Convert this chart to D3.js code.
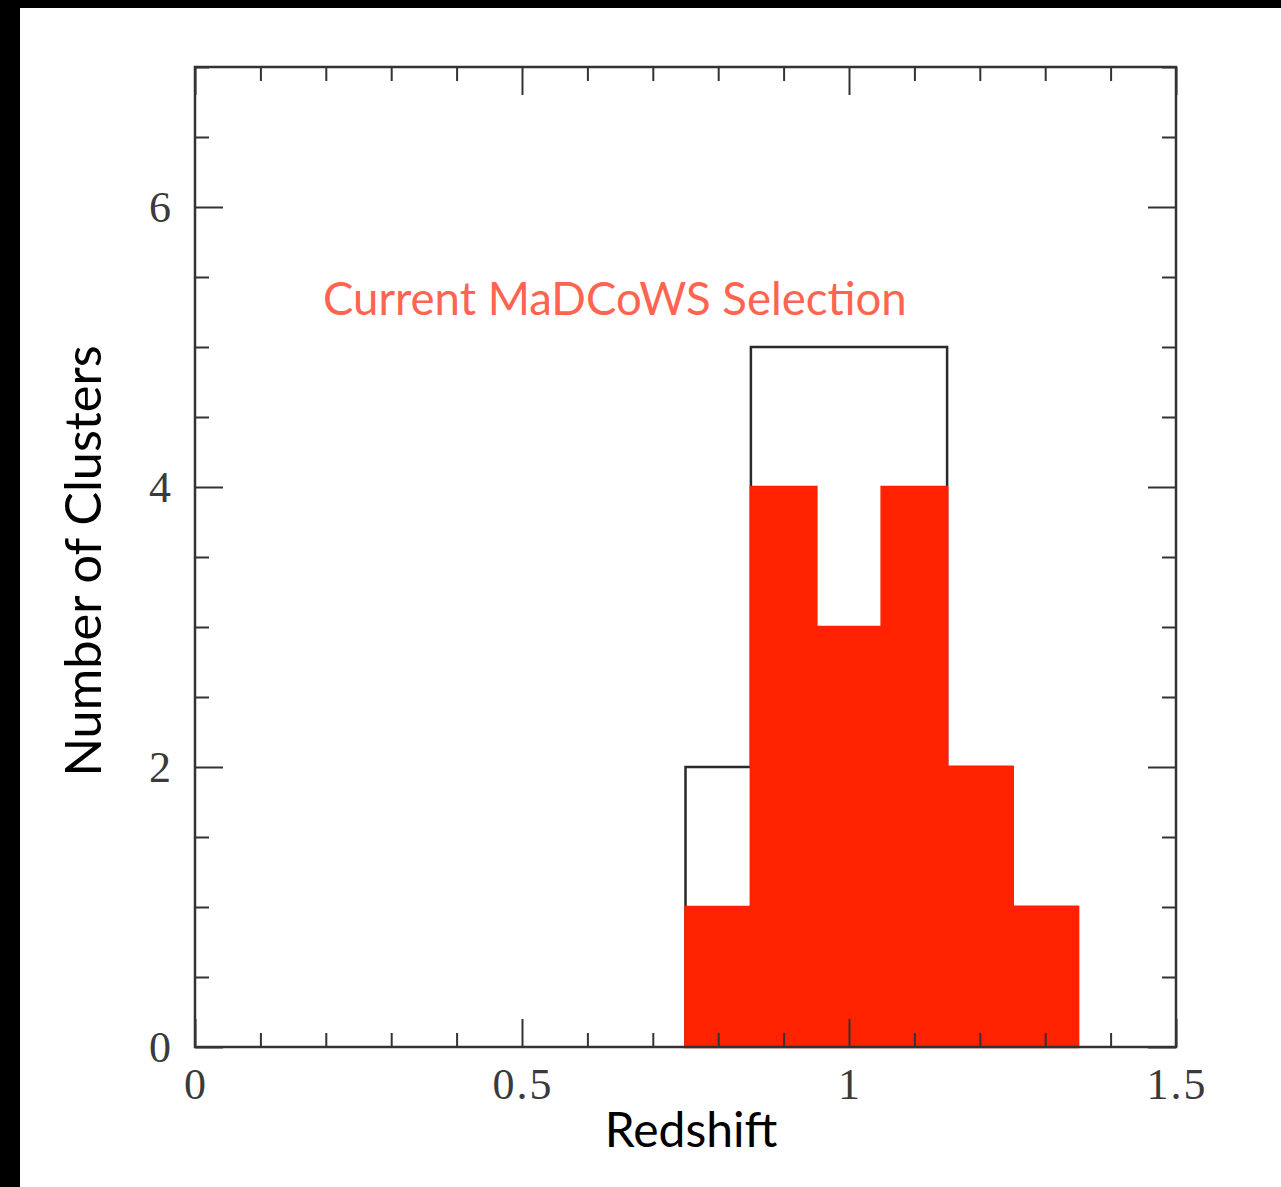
<!DOCTYPE html>
<html>
    <head>
        <meta charset="utf-8" />
        <script src="https://d3js.org/d3.v7.min.js"></script>
        <style type="text/css">
            body {
                margin: 0;
                background-color: black;
            }
            svg#mainSvg {
                position: absolute;
                left: 0;
                top: 0;
                width: 1281px;
                height: 1187px;
            }
            .tickLabel {
                font-family: "Liberation Serif", serif;
                font-size: 44px;
                letter-spacing: 2px;
                fill: #3a3a3a;
            }
            .title {
                font-family: Lato, "Open Sans", sans-serif;
                fill: black;
            }
        </style>
    </head>

    <body>
        <svg id="mainSvg"></svg>

        <script type="text/javascript">
            // Histogram bins (redshift), width 0.1
            const binStart = [0.75, 0.85, 0.95, 1.05, 1.15, 1.25];
            const binWidth = 0.1;
            // All candidates (black outline)
            const totalCounts = [2, 5, 5, 5, 2, 1];
            // Current MaDCoWS selection (red fill)
            const selCounts = [1, 4, 3, 4, 2, 1];

            // Axis ticks
            const xMajor = [0, 0.5, 1, 1.5];
            const xMajorLabels = ["0", "0.5", "1", "1.5"];
            const yMajor = [0, 2, 4, 6];
            const yMajorLabels = ["0", "2", "4", "6"];
        </script>

        <script type="text/javascript">
            const svg = d3.select("#mainSvg");

            // White page area, black strips on the left and top
            svg.append("rect")
                .attr("x", 20)
                .attr("y", 8)
                .attr("width", 1261)
                .attr("height", 1179)
                .attr("fill", "white");

            const x = d3.scaleLinear().domain([0, 1.5]).range([195, 1176]);
            const y = d3.scaleLinear().domain([0, 7]).range([1047, 67]);

            // Turn counts into step points
            function steps(counts) {
                let pts = [[binStart[0], 0]];
                binStart.forEach((b, i) => {
                    pts.push([b, counts[i]]);
                    pts.push([b + binWidth, counts[i]]);
                });
                pts.push([binStart[binStart.length - 1] + binWidth, 0]);
                return pts;
            }

            const line = d3.line().x((d) => x(d[0])).y((d) => y(d[1]));

            // Black outline histogram
            svg.append("path")
                .attr("d", line(steps(totalCounts)))
                .attr("fill", "none")
                .attr("stroke", "#2a2a2a")
                .attr("stroke-width", 2.5);

            // Red filled histogram, one closed shape (covers the outline below it)
            svg.append("path")
                .attr("d", line(steps(selCounts)) + "Z")
                .attr("fill", "#ff2200")
                .attr("stroke", "#ff2200")
                .attr("stroke-width", 2.6);

            // Axes: ticks pointing inwards, on all four sides
            const xMinor = d3.range(0, 1.51, 0.1).filter(
                (v) => !xMajor.some((m) => Math.abs(m - v) < 1e-6)
            );
            const yMinor = d3.range(0, 7.01, 0.5).filter(
                (v) => !yMajor.some((m) => Math.abs(m - v) < 1e-6)
            );

            function drawAxis(axis, transform) {
                const g = svg.append("g")
                    .attr("transform", transform)
                    .call(axis);
                g.select(".domain").remove();
                g.selectAll("text").remove();
                g.selectAll("line")
                    .attr("stroke", "#333")
                    .attr("stroke-width", 2);
            }

            drawAxis(d3.axisBottom(x).tickValues(xMajor).tickSize(-28), "translate(0,1047)");
            drawAxis(d3.axisBottom(x).tickValues(xMinor).tickSize(-14), "translate(0,1047)");
            drawAxis(d3.axisTop(x).tickValues(xMajor).tickSize(-28), "translate(0,67)");
            drawAxis(d3.axisTop(x).tickValues(xMinor).tickSize(-14), "translate(0,67)");
            drawAxis(d3.axisLeft(y).tickValues(yMajor).tickSize(-28), "translate(195,0)");
            drawAxis(d3.axisLeft(y).tickValues(yMinor).tickSize(-14), "translate(195,0)");
            drawAxis(d3.axisRight(y).tickValues(yMajor).tickSize(-28), "translate(1176,0)");
            drawAxis(d3.axisRight(y).tickValues(yMinor).tickSize(-14), "translate(1176,0)");

            // Frame
            svg.append("rect")
                .attr("x", 195)
                .attr("y", 67)
                .attr("width", 981)
                .attr("height", 980)
                .attr("fill", "none")
                .attr("stroke", "#333")
                .attr("stroke-width", 2.5);

            // Tick labels
            svg.append("g")
                .selectAll("text")
                .data(xMajor)
                .enter()
                .append("text")
                .attr("class", "tickLabel")
                .attr("x", (d) => x(d) + 1)
                .attr("y", 1099)
                .attr("text-anchor", "middle")
                .text((d, i) => xMajorLabels[i]);

            svg.append("g")
                .selectAll("text")
                .data(yMajor)
                .enter()
                .append("text")
                .attr("class", "tickLabel")
                .attr("x", 173)
                .attr("y", (d) => y(d) + 15)
                .attr("text-anchor", "end")
                .text((d, i) => yMajorLabels[i]);

            // Axis titles
            svg.append("text")
                .attr("class", "title")
                .attr("x", 691)
                .attr("y", 1147)
                .attr("text-anchor", "middle")
                .style("font-size", "48px")
                .text("Redshift");

            svg.append("text")
                .attr("class", "title")
                .attr("transform", "translate(101,561) rotate(-90)")
                .attr("text-anchor", "middle")
                .style("font-size", "50.5px")
                .text("Number of Clusters");

            // Annotation
            svg.append("text")
                .attr("class", "title")
                .attr("x", 323)
                .attr("y", 315)
                .style("font-size", "45.5px")
                .style("fill", "#ff6450")
                .text("Current MaDCoWS Selection");
        </script>
    </body>
</html>
